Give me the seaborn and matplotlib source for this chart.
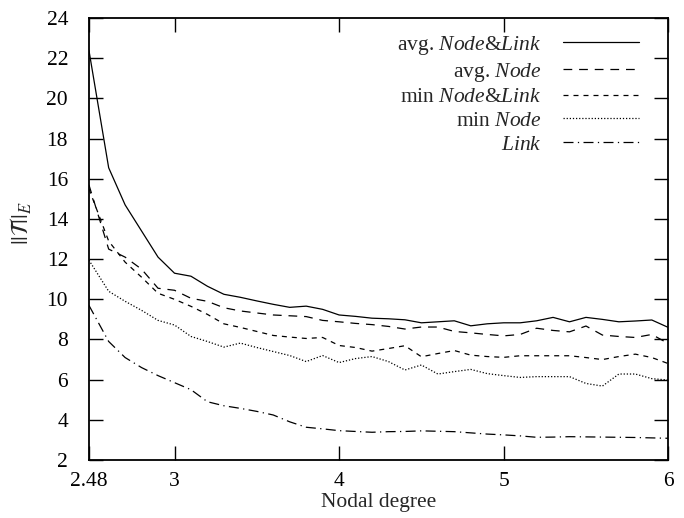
import numpy as np
import pandas as pd
import matplotlib
matplotlib.use("Agg")
import matplotlib.pyplot as plt
import seaborn as sns

# ── Data ────────────────────────────────────────────────────────────────────
degree = [2.48, 2.6, 2.7, 2.8, 2.9, 3.0, 3.1, 3.2, 3.3, 3.4, 3.5, 3.6, 3.7, 3.8,
          3.9, 4.0, 4.1, 4.2, 4.3, 4.4, 4.5, 4.6, 4.7, 4.8, 4.9, 5.0, 5.1, 5.2,
          5.3, 5.4, 5.5, 5.6, 5.7, 5.8, 5.9, 6.0]

avg_node_link = [22.4, 16.55, 14.7, 13.4, 12.1, 11.3, 11.15, 10.65, 10.25, 10.1,
                 9.92, 9.75, 9.6, 9.66, 9.5, 9.22, 9.15, 9.06, 9.03, 8.98, 8.83,
                 8.88, 8.93, 8.68, 8.78, 8.83, 8.83, 8.93, 9.1, 8.88, 9.1, 9.0,
                 8.88, 8.92, 8.97, 8.6]
avg_node = [15.7, 12.5, 12.1, 11.5, 10.55, 10.45, 10.05, 9.9, 9.58, 9.42, 9.32,
            9.22, 9.18, 9.14, 8.95, 8.88, 8.8, 8.74, 8.65, 8.52, 8.62, 8.62, 8.4,
            8.33, 8.25, 8.18, 8.25, 8.56, 8.45, 8.38, 8.67, 8.22, 8.15, 8.1,
            8.25, 7.8]
min_node_link = [15.5, 12.9, 11.85, 11.1, 10.3, 10.0, 9.65, 9.25, 8.78, 8.6, 8.4,
                 8.2, 8.12, 8.05, 8.1, 7.7, 7.6, 7.42, 7.55, 7.69, 7.14, 7.3,
                 7.45, 7.22, 7.15, 7.11, 7.19, 7.19, 7.19, 7.19, 7.1, 7.0, 7.15,
                 7.27, 7.1, 6.8]
min_node = [11.95, 10.4, 9.9, 9.45, 8.95, 8.72, 8.15, 7.9, 7.62, 7.82, 7.6, 7.4,
            7.2, 6.9, 7.2, 6.85, 7.05, 7.15, 6.9, 6.48, 6.73, 6.28, 6.4, 6.51,
            6.3, 6.2, 6.11, 6.15, 6.15, 6.15, 5.81, 5.68, 6.28, 6.28, 6.05, 5.98]
link = [9.7, 7.9, 7.1, 6.6, 6.2, 5.85, 5.5, 4.9, 4.7, 4.57, 4.42, 4.24, 3.9,
        3.63, 3.55, 3.46, 3.42, 3.38, 3.41, 3.42, 3.45, 3.43, 3.41, 3.35, 3.29,
        3.25, 3.2, 3.13, 3.14, 3.16, 3.15, 3.14, 3.13, 3.12, 3.1, 3.08]

labels = [r"avg. $\mathit{Node&Link}$", r"avg. $\mathit{Node}$",
          r"min $\mathit{Node&Link}$", r"min $\mathit{Node}$", r"$\mathit{Link}$"]
x_ticks = [2.48, 3, 4, 5, 6]
x_ticklabels = ["2.48", "3", "4", "5", "6"]
y_ticks = [2, 4, 6, 8, 10, 12, 14, 16, 18, 20, 22, 24]

# ── Style ───────────────────────────────────────────────────────────────────
sns.set_theme(style="ticks")
plt.rcParams["font.family"] = ["Liberation Serif", "DejaVu Serif"]
plt.rcParams["mathtext.fontset"] = "custom"
plt.rcParams["mathtext.rm"] = "Liberation Serif"
plt.rcParams["mathtext.it"] = "Liberation Serif:italic"

styles = [
    "-",
    (0, (7, 5.5)),
    (0, (4, 4)),
    (0, (1, 1.5)),
    (0, (8, 3.5, 1, 3.5)),
]
series = [avg_node_link, avg_node, min_node_link, min_node, link]

fig = plt.figure(figsize=(6.84, 5.18), dpi=100)
ax = fig.add_axes([0.130, 0.112, 0.847, 0.853])

for vals, lab, ls in zip(series, labels, styles):
    df = pd.DataFrame({"degree": degree, "value": vals})
    sns.lineplot(data=df, x="degree", y="value", ax=ax, color="black",
                 linewidth=0.9, linestyle=ls, label=lab)

ax.set_xlim(2.48, 6)
ax.set_ylim(2, 24)
ax.set_xticks(x_ticks)
ax.set_xticklabels(x_ticklabels)
ax.set_yticks(y_ticks)
ax.tick_params(direction="in", top=True, right=True, length=10, width=1,
               labelsize=15.5, colors="black")
ax.tick_params(axis="x", pad=9)
ax.tick_params(axis="y", pad=15)
for sp in ax.spines.values():
    sp.set_linewidth(1.3)
    sp.set_color("black")

ax.set_xlabel("Nodal degree", fontsize=15.5, labelpad=1)
ax.set_ylabel(r"$||\mathcal{T}||_E$", fontsize=17, math_fontfamily="stix")
ax.yaxis.set_label_coords(-0.095, 0.535)

leg = ax.legend(loc="upper right", bbox_to_anchor=(0.986, 1.013),
                frameon=False, markerfirst=False,
                fontsize=15.5, handlelength=3.5, labelspacing=0.17,
                borderaxespad=0.6, handletextpad=1.0)
for t in leg.get_texts():
    t.set_ha("right")
leg._legend_box.align = "right"

fig.savefig("out.png", dpi=100)
